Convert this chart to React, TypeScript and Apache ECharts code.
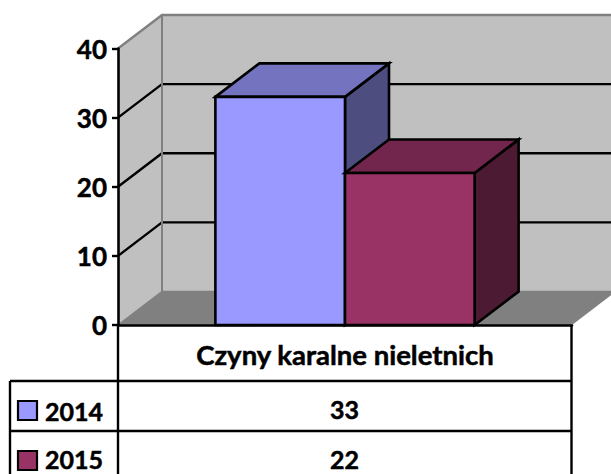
import React, { useEffect, useRef } from "react";
import * as echarts from "echarts";

const categories = ["Czyny karalne nieletnich"];
const seriesNames = ["2014", "2015"];
const values2014 = [33];
const values2015 = [22];
const yTicks = [0, 10, 20, 30, 40];
const FONT = "Lato";
const colors = {
  a: { front: "#9999FF", top: "#7373BF", side: "#4D4D80" },
  b: { front: "#993366", top: "#73264D", side: "#4D1A33" },
};
const DX = 44;
const DY = -33.5;
const BAR_SHARE = 0.2855;

function wallItem(params: any, api: any) {
  const cs = params.coordSys;
  const L = cs.x, R = cs.x + cs.width, B = cs.y + cs.height, T = cs.y;
  const children: any[] = [
    { type: "polygon", shape: { points: [[L, B], [L + DX, B + DY], [L + DX, T + DY], [L, T]] }, style: { fill: "#C0C0C0" } },
    { type: "polygon", shape: { points: [[L + DX, B + DY], [R + DX, B + DY], [R + DX, T + DY], [L + DX, T + DY]] }, style: { fill: "#C0C0C0" } },
    { type: "polygon", shape: { points: [[L, B], [L + DX, B + DY], [R + DX, B + DY], [R, B]] }, style: { fill: "#808080" } },
  ];
  yTicks.forEach((t) => {
    const y = api.coord([0, t])[1];
    const edge = t === 0 || t === yTicks[yTicks.length - 1];
    children.push({
      type: "polyline",
      shape: { points: [[L, y], [L + DX, y + DY], [R + DX, y + DY]] },
      style: { fill: "none", stroke: edge ? "#808080" : "#000", lineWidth: t === 0 ? 1.5 : 2.4 },
    });
  });
  children.push({
    type: "line",
    shape: { x1: L + DX, y1: T + DY, x2: L + DX, y2: B + DY },
    style: { stroke: "#808080", lineWidth: 2 },
  });
  return { type: "group", children };
}

function barItem(slot: number, c: { front: string; top: string; side: string }) {
  return (_params: any, api: any) => {
    const p = api.coord([api.value(0), api.value(1)]);
    const base = api.coord([api.value(0), 0]);
    const w = api.size([1, 0])[0] * BAR_SHARE;
    const x0 = p[0] + (slot - 1) * w;
    const x1 = x0 + w;
    const style = { stroke: "#000", lineWidth: 2.6, lineJoin: "miter" };
    return {
      type: "group",
      children: [
        { type: "polygon", shape: { points: [[x1, base[1]], [x1 + DX, base[1] + DY], [x1 + DX, p[1] + DY], [x1, p[1]]] }, style: { ...style, fill: c.side } },
        { type: "polygon", shape: { points: [[x0, p[1]], [x0 + DX, p[1] + DY], [x1 + DX, p[1] + DY], [x1, p[1]]] }, style: { ...style, fill: c.top } },
        { type: "polygon", shape: { points: [[x0, base[1]], [x1, base[1]], [x1, p[1]], [x0, p[1]]] }, style: { ...style, fill: c.front } },
      ],
    };
  };
}

export default function App() {
  const ref = useRef<HTMLDivElement>(null);
  useEffect(() => {
    const chart = echarts.init(ref.current!, null, { renderer: "svg" });
    const line = (x1: number, y1: number, x2: number, y2: number) => ({
      type: "line", z: 20, shape: { x1, y1, x2, y2 }, style: { stroke: "#000", lineWidth: 2.4 },
    });
    const label = (text: string, x: number, y: number, align = "center") => ({
      type: "text", z: 20, x, y,
      style: { text, font: `bold 25px ${FONT}`, fill: "#000", stroke: "#000", lineWidth: 0.5, textAlign: align, textVerticalAlign: "middle" },
    });
    const swatch = (x: number, y: number, fill: string) => ({
      type: "rect", z: 20, shape: { x, y, width: 19, height: 19 }, style: { fill, stroke: "#000", lineWidth: 2.2 },
    });
    chart.setOption({
      animation: false,
      backgroundColor: "#fff",
      grid: { left: 118, right: 39, top: 48.5, bottom: 149 },
      xAxis: {
        type: "category",
        data: categories,
        z: 10,
        axisLine: { show: true, lineStyle: { color: "#000", width: 2.6 } },
        axisTick: { show: false },
        axisLabel: { color: "#000", fontFamily: FONT, fontWeight: "bold", fontSize: 27.5, margin: 15, textBorderColor: "#000", textBorderWidth: 0.5 },
      },
      yAxis: {
        type: "value",
        min: 0,
        max: 40,
        interval: 10,
        z: 10,
        axisLine: { show: true, lineStyle: { color: "#000", width: 2.6 } },
        axisTick: { show: true, length: 6, lineStyle: { color: "#000", width: 2.4 } },
        axisLabel: { color: "#000", fontFamily: FONT, fontWeight: "bold", fontSize: 26, margin: 11, textBorderColor: "#000", textBorderWidth: 0.5 },
        splitLine: { show: false },
      },
      series: [
        { type: "custom", name: "wall", coordinateSystem: "cartesian2d", renderItem: wallItem, data: [[0, 0]], silent: true, z: 1 },
        { type: "custom", name: seriesNames[0], coordinateSystem: "cartesian2d", renderItem: barItem(0, colors.a), data: values2014.map((v, i) => [i, v]), encode: { x: 0, y: 1 }, z: 2 },
        { type: "custom", name: seriesNames[1], coordinateSystem: "cartesian2d", renderItem: barItem(1, colors.b), data: values2015.map((v, i) => [i, v]), encode: { x: 0, y: 1 }, z: 3 },
      ],
      graphic: [
        line(118, 325, 118, 474),
        line(571.5, 325, 571.5, 474),
        line(10, 381, 571.5, 381),
        line(10, 431, 571.5, 431),
        line(10, 381, 10, 474),
        swatch(18, 401, colors.a.front),
        swatch(18, 451, colors.b.front),
        label(seriesNames[0], 45, 410.5, "left"),
        label(seriesNames[1], 45, 458.5, "left"),
        label(String(values2014[0]), 344.5, 408.5),
        label(String(values2015[0]), 344.5, 458.5),
      ],
    });
    return () => chart.dispose();
  }, []);
  return <div ref={ref} style={{ position: "fixed", left: 0, top: 0, width: 611, height: 474 }} />;
}
